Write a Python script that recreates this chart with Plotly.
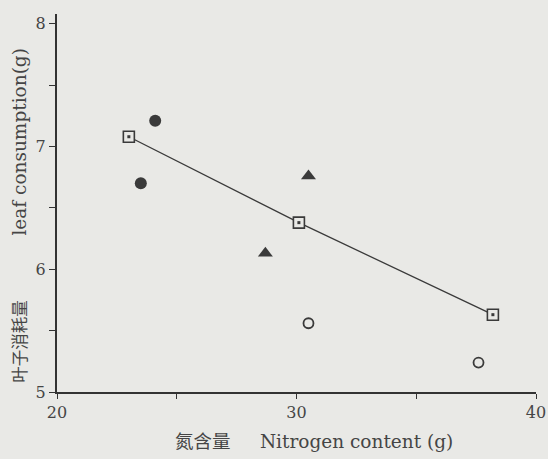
import plotly.graph_objects as go

# Data
sq_x = [23.0, 30.1, 38.2]
sq_y = [7.08, 6.38, 5.63]
fc_x = [24.1, 23.5]
fc_y = [7.21, 6.70]
tri_x = [30.5, 28.7]
tri_y = [6.76, 6.13]
oc_x = [30.5, 37.6]
oc_y = [5.56, 5.24]

x_ticks = [20, 25, 30, 35, 40]
x_labels = ["20", "", "30", "", "40"]
y_ticks = [5, 5.5, 6, 6.5, 7, 7.5, 8]
y_labels = ["5", "", "6", "", "7", "", "8"]

x_title = "氮含量\u00a0\u00a0\u00a0\u00a0 Nitrogen content (g)"
y_title = ("<span style='font-size:16.5px'>叶子消耗量</span>"
           + "\u00a0" * 10 + " leaf consumption(g)")

ink = "#3a3a3a"
bg = "#e9e9e6"
font_fam = "DejaVu Serif, Noto Sans CJK SC, serif"

fig = go.Figure()
fig.add_trace(go.Scatter(x=sq_x, y=sq_y, mode="lines+markers",
                         line=dict(color=ink, width=1.3),
                         marker=dict(symbol="square", size=11, color=bg,
                                     line=dict(width=1.6, color=ink))))
fig.add_trace(go.Scatter(x=sq_x, y=sq_y, mode="markers",
                         marker=dict(symbol="square", size=3, color=ink)))
fig.add_trace(go.Scatter(x=fc_x, y=fc_y, mode="markers",
                         marker=dict(symbol="circle", size=12, color=ink)))
fig.add_trace(go.Scatter(x=tri_x, y=tri_y, mode="markers",
                         marker=dict(symbol="triangle-up", size=13, color=ink)))
fig.add_trace(go.Scatter(x=oc_x, y=oc_y, mode="markers",
                         marker=dict(symbol="circle-open", size=10, color=ink,
                                     line=dict(width=1.8, color=ink))))

fig.update_layout(
    width=548, height=459,
    margin=dict(l=57, r=12, t=14, b=67),
    paper_bgcolor=bg, plot_bgcolor=bg,
    showlegend=False,
    font=dict(family=font_fam, size=16, color="#454545"),
    xaxis=dict(range=[20, 40], tickvals=x_ticks, ticktext=x_labels,
               automargin=False, ticklabeloverflow="allow",
               showgrid=False, zeroline=False, showline=True, linewidth=2,
               linecolor="#333", ticks="outside", ticklen=5, tickwidth=1.2,
               tickcolor="#333", tickfont=dict(size=16)),
    yaxis=dict(range=[5, 8.08], tickvals=y_ticks, ticktext=y_labels,
               automargin=False, ticklabeloverflow="allow",
               showgrid=False, zeroline=False, showline=True, linewidth=2,
               linecolor="#333", ticks="outside", ticklen=6, tickwidth=1.2,
               tickcolor="#333", tickfont=dict(size=16)),
    annotations=[
        dict(text=x_title, xref="paper", yref="paper", x=0.536, y=-0.13,
             xanchor="center", yanchor="middle", showarrow=False,
             font=dict(size=18.5)),
        dict(text=y_title, xref="paper", yref="paper", x=-0.08, y=0.468,
             xanchor="center", yanchor="middle", showarrow=False, textangle=-90,
             font=dict(size=18.5)),
    ],
)

fig.write_html("out.html", config={"displayModeBar": False},
               post_script="document.body.style.margin='0';document.body.style.overflow='hidden';")
